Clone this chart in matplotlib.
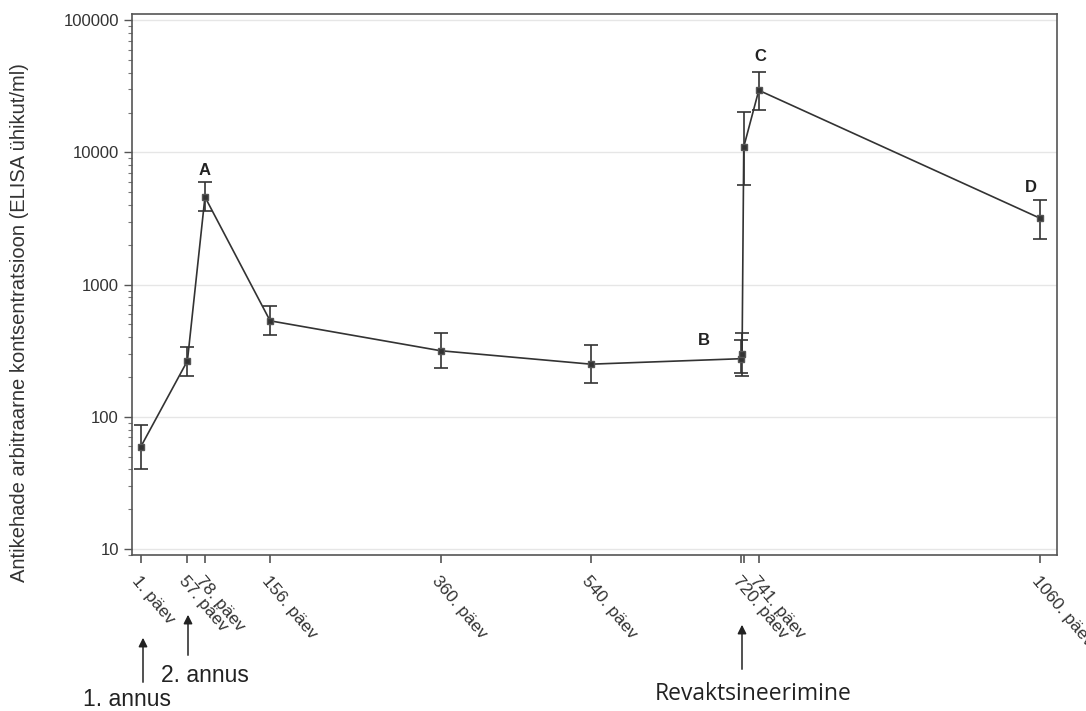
import matplotlib.pyplot as plt
from matplotlib.patches import FancyArrowPatch
from matplotlib.ticker import LogLocator, NullFormatter

plt.rcParams.update({
    'font.family': ['Liberation Sans', 'DejaVu Sans'],
    'axes.linewidth': 1.2,
    'axes.edgecolor': '#555555',
})

# days (x position) and antibody concentration
day = [1, 57, 78, 156, 360, 540, 720, 721, 723, 741, 1078]
conc = [59, 265, 4600, 532, 316, 250, 275, 300, 11000, 29500, 3170]
err_hi = [87, 335, 6000, 687, 432, 349, 380, 430, 20300, 40600, 4400]
err_lo = [40, 203, 3600, 415, 232, 181, 215, 203, 5650, 21100, 2230]

tick_pos = [1, 57, 78, 156, 360, 540, 720, 723, 741, 1078]
tick_labels = ['1. päev', '57. päev', '78. päev', '156. päev', '360. päev',
               '540. päev', '720. päev', '', '741. päev', '1060. päev']

# point labels
lab_text = ['A', 'B', 'C', 'D']
lab_day = [78, 675, 743, 1067]
lab_val = [6400, 330, 46500, 4750]

fig = plt.figure(figsize=(10.86, 7.11), dpi=100)
ax = fig.add_axes([0.1215, 0.2194, 0.8518, 0.7606])

yerr = [[c - l for c, l in zip(conc, err_lo)], [h - c for c, h in zip(conc, err_hi)]]
ax.errorbar(day, conc, yerr=yerr, color='#333333', lw=1.2, elinewidth=1.2,
            capsize=5, capthick=1.2, marker='s', ms=4, mfc='#333333', mec='#555555')

ax.set_yscale('log')
ax.set_ylim(9.0, 111000)
ax.set_xlim(-9.4, 1098)
ax.set_yticks([10, 100, 1000, 10000, 100000])
ax.set_yticklabels(['10', '100', '1000', '10000', '100000'])
ax.yaxis.set_minor_locator(LogLocator(base=10, subs=range(2, 10)))
ax.yaxis.set_minor_formatter(NullFormatter())
ax.tick_params(axis='y', which='major', length=6, width=1, color='#555555',
               labelsize=12, labelcolor='#333333')
ax.tick_params(axis='y', which='minor', length=3, width=0.8, color='#777777')
ax.grid(axis='y', which='major', color='#e6e6e6', lw=1)
ax.set_axisbelow(True)

ax.set_xticks(tick_pos)
ax.set_xticklabels(tick_labels, rotation=-50, ha='left', va='top',
                   rotation_mode='anchor', fontsize=12.5, color='#333333')
ax.tick_params(axis='x', length=6, width=1.2, color='#555555', pad=7)

ax.set_ylabel('Antikehade arbitraarne kontsentratsioon (ELISA ühikut/ml)',
              fontsize=14.5, color='#333333')
ax.yaxis.set_label_coords(-0.111, 0.43)

for t, d, v in zip(lab_text, lab_day, lab_val):
    ax.text(d, v, t, fontsize=12, fontweight='bold', ha='center', va='bottom',
            color='#222222')

# dose annotations under the axis (pixel rows from the picture)
arrows = [(143, 685, 635), (188, 658, 612), (742, 672, 622)]
for xpix, y_tail, y_tip in arrows:
    fig.patches.append(FancyArrowPatch(
        (xpix / 1086, 1 - y_tail / 711), (xpix / 1086, 1 - y_tip / 711),
        transform=fig.transFigure, arrowstyle='-|>', mutation_scale=13,
        color='#222222', lw=1.1))
fig.text(127 / 1086, 1 - 699 / 711, '1. annus', fontsize=16.5, ha='center',
         va='center', color='#222222')
fig.text(205 / 1086, 1 - 676 / 711, '2. annus', fontsize=16.5, ha='center',
         va='center', color='#222222')
fig.text(753 / 1086, 1 - 694 / 711, 'Revaktsineerimine', fontsize=16.5,
         ha='center', va='center', color='#222222',
         family=['Open Sans', 'DejaVu Sans'])

fig.savefig('out.png', dpi=100)
